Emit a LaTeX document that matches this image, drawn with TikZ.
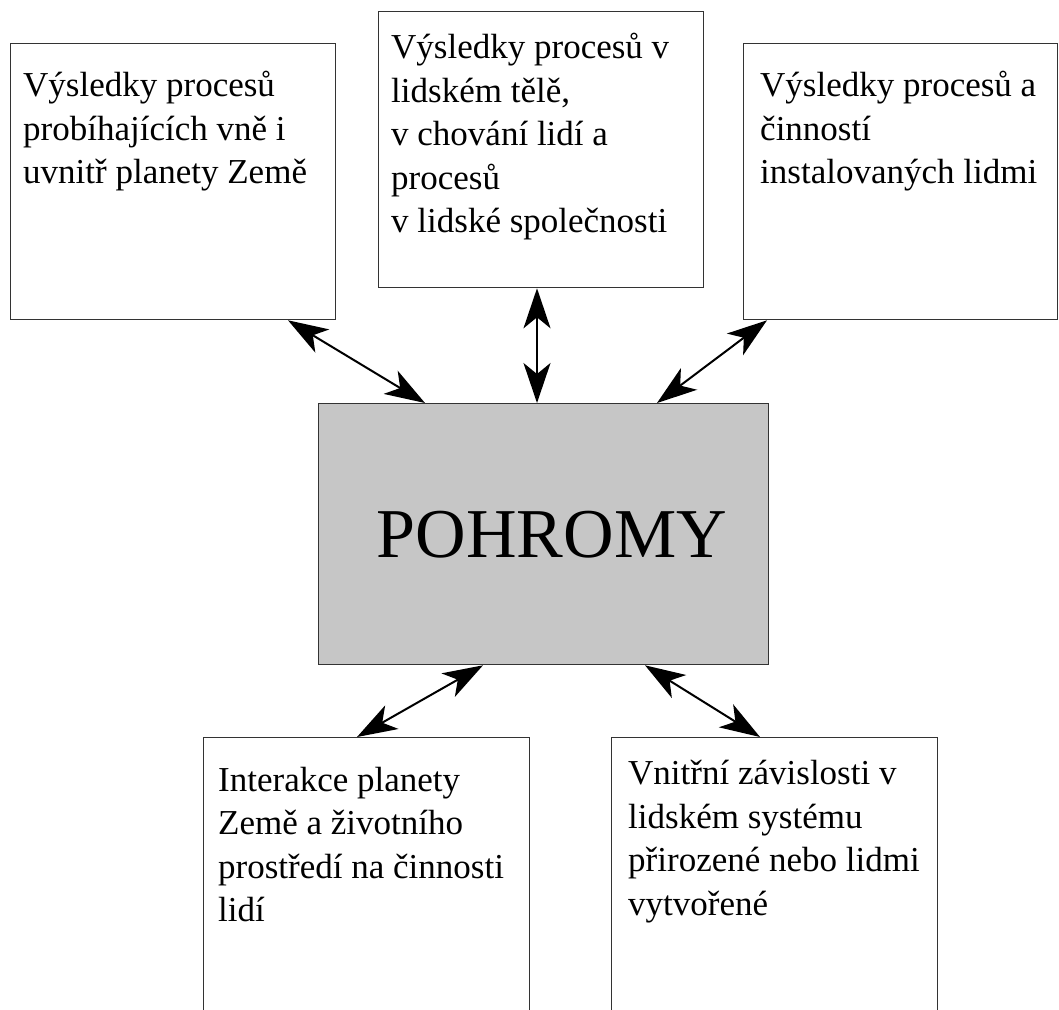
\documentclass[tikz,border=0pt]{standalone}
\usepackage{fontspec}
\setmainfont{Liberation Serif}
\usetikzlibrary{arrows.meta,calc}

\tikzset{
  panel/.style={draw=black!80, line width=1.3pt, fill=white, inner sep=0pt, anchor=north west},
  hub/.style={draw=black!80, line width=1.3pt, fill=gray!45, inner sep=0pt, anchor=north west},
  caption/.style={anchor=north west, inner sep=0pt, align=left,
    font=\fontsize{35}{43.5}\selectfont},
  link/.style={line width=2pt, {Stealth[length=40pt, width=27pt, inset=11pt]}-{Stealth[length=40pt, width=27pt, inset=11pt]}}
}

\begin{document}
\begin{tikzpicture}[x=1pt, y=-1pt]
\useasboundingbox (0,0) rectangle (1059,1009);
\clip (0,0) rectangle (1059,1009);

% outer panels
\node[panel, minimum width=325pt, minimum height=276pt] (b1) at (10,43) {};
\node[panel, minimum width=325pt, minimum height=276pt] (b2) at (378,11) {};
\node[panel, minimum width=314pt, minimum height=276pt] (b3) at (743,43) {};
\node[panel, minimum width=326pt, minimum height=320pt] (b4) at (203,737) {};
\node[panel, minimum width=326pt, minimum height=320pt] (b5) at (611,737) {};

% central box
\node[hub, minimum width=450pt, minimum height=261pt] (c) at (318,403) {};
\node[font=\fontsize{70}{74}\selectfont, inner sep=0pt, anchor=base] (ct) at (552,557) {POHROMY};

% panel texts
\node[caption] (t1) at (23,71) {Výsledky procesů\\probíhajících vně i\\uvnitř planety Země};
\node[caption] (t2) at (391,33) {Výsledky procesů v\\lidském tělě,\\v chování lidí a\\procesů\\v lidské společnosti};
\node[caption] (t3) at (760,71) {Výsledky procesů a\\činností\\instalovaných lidmi};
\node[caption] (t4) at (218,767) {Interakce planety\\Země a životního\\prostředí na činnosti\\lidí};
\node[caption] (t5) at (628,760) {Vnitřní závislosti v\\lidském systému\\přirozené nebo lidmi\\vytvořené};

% connectors
\draw[link] ($(b1.south west)+(278,0)$) -- ($(c.north west)+(107,0)$);
\draw[link] ($(b2.south west)+(159,0)$) -- ($(c.north west)+(219,0)$);
\draw[link] ($(b3.south west)+(24,0)$) -- ($(c.north west)+(339,0)$);
\draw[link] ($(c.south west)+(165,0)$) -- ($(b4.north west)+(154,0)$);
\draw[link] ($(c.south west)+(327,0)$) -- ($(b5.north west)+(149,0)$);
\end{tikzpicture}
\end{document}
